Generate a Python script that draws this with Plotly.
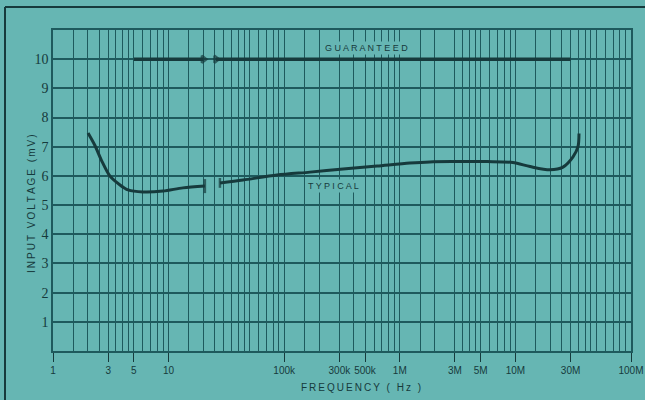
import plotly.graph_objects as go

# ---- data (frequency in Hz, input voltage in mV) ----
typ_low_f = [2.01, 2.3, 2.65, 3.1, 3.8, 4.46, 6.0, 8.95, 13.3, 20.6]
typ_low_v = [7.47, 7.05, 6.5, 6.0, 5.69, 5.52, 5.45, 5.48, 5.59, 5.65]

typ_high_f = [27.8e3, 44e3, 86.7e3, 167e3, 323e3, 635e3, 1.22e6, 1.82e6, 2.9e6,
              5.7e6, 9.5e6, 13.4e6, 19.9e6, 25.8e6, 31.5e6, 34.8e6, 35.5e6]
typ_high_v = [5.76, 5.86, 6.03, 6.13, 6.24, 6.34, 6.44, 6.48, 6.49,
              6.49, 6.46, 6.32, 6.21, 6.3, 6.65, 7.0, 7.45]

gar_low_f = [5, 20]
gar_low_v = [10, 10]
gar_high_f = [25.7e3, 30e6]
gar_high_v = [10, 10]

tick_f = [1, 3, 5, 10, 1e5, 3e5, 5e5, 1e6, 3e6, 5e6, 1e7, 3e7, 1e8]
tick_text = ["1", "3", "5", "10", "100k", "300k", "500k", "1M", "3M", "5M", "10M", "30M", "100M"]

y_ticks = [1, 2, 3, 4, 5, 6, 7, 8, 9, 10]

# graph-paper grid multipliers for each of the five decades on the sheet
grid_mult = [
    [1.5, 2, 2.5, 3, 3.5, 4, 4.5, 5, 6, 7, 8, 9],
    [1.5, 2, 2.5, 3, 3.5, 4, 4.5, 5, 6, 7, 8, 9],
    [1.5, 2, 3, 4, 5, 6, 7, 8, 9],
    [1.5, 2, 3, 3.5, 4, 4.5, 5, 6, 7, 8, 9],
    [1.5, 2, 2.5, 3, 3.5, 4, 4.5, 5, 6, 7, 8, 9],
]


def axis_x(f):
    """Broken frequency axis: Hz below the break, kHz above it."""
    return f if f < 1000 else f / 1000.0


def axis_list(fs):
    return [axis_x(f) for f in fs]


grid_vals = []
for d, mults in enumerate(grid_mult):
    grid_vals += [m * 10 ** d for m in mults]

BG = "#66b6b3"
GRID = "#1e5a5d"
INK = "#163a3c"
HS = "\u2009"  # thin space for the letter-spaced lettering


def spaced(s):
    return HS.join(list(s))


fig = go.Figure()

line_style = dict(color=INK, width=3, shape="spline", smoothing=0.8)
fig.add_trace(go.Scatter(x=axis_list(typ_low_f), y=typ_low_v, mode="lines",
                         line=line_style, showlegend=False, hoverinfo="skip"))
fig.add_trace(go.Scatter(x=axis_list(typ_high_f), y=typ_high_v, mode="lines",
                         line=line_style, showlegend=False, hoverinfo="skip"))
fig.add_trace(go.Scatter(x=axis_list(gar_low_f), y=gar_low_v, mode="lines",
                         line=dict(color=INK, width=3.5), showlegend=False, hoverinfo="skip"))
fig.add_trace(go.Scatter(x=axis_list(gar_high_f), y=gar_high_v, mode="lines",
                         line=dict(color=INK, width=3.5), showlegend=False, hoverinfo="skip"))

# break marks at the ends of the curve pieces
fig.add_trace(go.Scatter(
    x=[axis_x(typ_low_f[-1]), axis_x(typ_high_f[0]), axis_x(gar_low_f[-1]), axis_x(gar_high_f[0])],
    y=[typ_low_v[-1], typ_high_v[0], gar_low_v[-1], gar_high_v[0]],
    mode="markers",
    marker=dict(symbol=["line-ns", "line-ns", "triangle-right", "triangle-right"], size=[10, 7, 6, 6],
                color=INK, line=dict(color=INK, width=2.5)),
    showlegend=False, hoverinfo="skip"))

fig.update_xaxes(
    type="log", range=[0, 5],
    tickmode="array", tickvals=axis_list(tick_f), ticktext=tick_text,
    ticks="outside", ticklen=9, tickwidth=1, tickcolor=INK,
    tickfont=dict(family="Liberation Sans", size=10, color=INK),
    showgrid=True, gridcolor=GRID, gridwidth=1.3,
    minor=dict(tickmode="array", tickvals=grid_vals, showgrid=True,
               gridcolor=GRID, gridwidth=1.3, ticks=""),
    showline=True, linecolor=GRID, linewidth=1.5, mirror=True,
    zeroline=False, automargin=False,
)
fig.update_yaxes(
    range=[0, 11], tickmode="array", tickvals=y_ticks,
    ticks="", tickfont=dict(family="Liberation Serif", size=14, color=INK),
    showgrid=True, gridcolor=GRID, gridwidth=1.5,
    showline=True, linecolor=GRID, linewidth=1.5, mirror=True,
    zeroline=False, automargin=False,
)

L, R, T, B = 53, 14, 30, 49
W, H = 645, 400
pw, ph = W - L - R, H - T - B


def px(xp):
    return (xp - L) / pw


def py(yp):
    return (H - B - yp) / ph


fig.add_annotation(xref="paper", yref="paper", x=px(31), y=py(204),
                   xanchor="center", yanchor="middle",
                   text=spaced("INPUT VOLTAGE (mV)"), textangle=-90, showarrow=False,
                   font=dict(family="Liberation Sans", size=10, color=INK))
fig.add_annotation(xref="paper", yref="paper", x=px(361), y=py(388),
                   xanchor="center", yanchor="middle",
                   text=spaced("FREQUENCY ( Hz )"), showarrow=False,
                   font=dict(family="Liberation Sans", size=10, color=INK))
fig.add_annotation(x=2.708, y=10.4, text="G U A R A N T E E D", showarrow=False,
                   bgcolor=BG, borderpad=1,
                   font=dict(family="Liberation Sans", size=9, color=INK))
fig.add_annotation(x=2.43, y=5.67, text="T Y P I C A L", showarrow=False,
                   bgcolor=BG, borderpad=1,
                   font=dict(family="Liberation Sans", size=9, color=INK))

# outer frame of the scanned figure (left and top edges)
fig.add_shape(type="line", xref="paper", yref="paper",
              x0=px(5), x1=px(5), y0=py(H + 5), y1=py(7),
              line=dict(color=INK, width=2))
fig.add_shape(type="line", xref="paper", yref="paper",
              x0=px(5), x1=px(W + 5), y0=py(7), y1=py(7),
              line=dict(color=INK, width=2))

fig.update_layout(
    width=W, height=H,
    margin=dict(l=L, r=R, t=T, b=B),
    paper_bgcolor=BG, plot_bgcolor=BG,
    showlegend=False,
)

fig.write_html(
    "out.html",
    config={"displayModeBar": False},
    post_script="document.body.style.margin='0';document.body.style.background='" + BG + "';",
)
